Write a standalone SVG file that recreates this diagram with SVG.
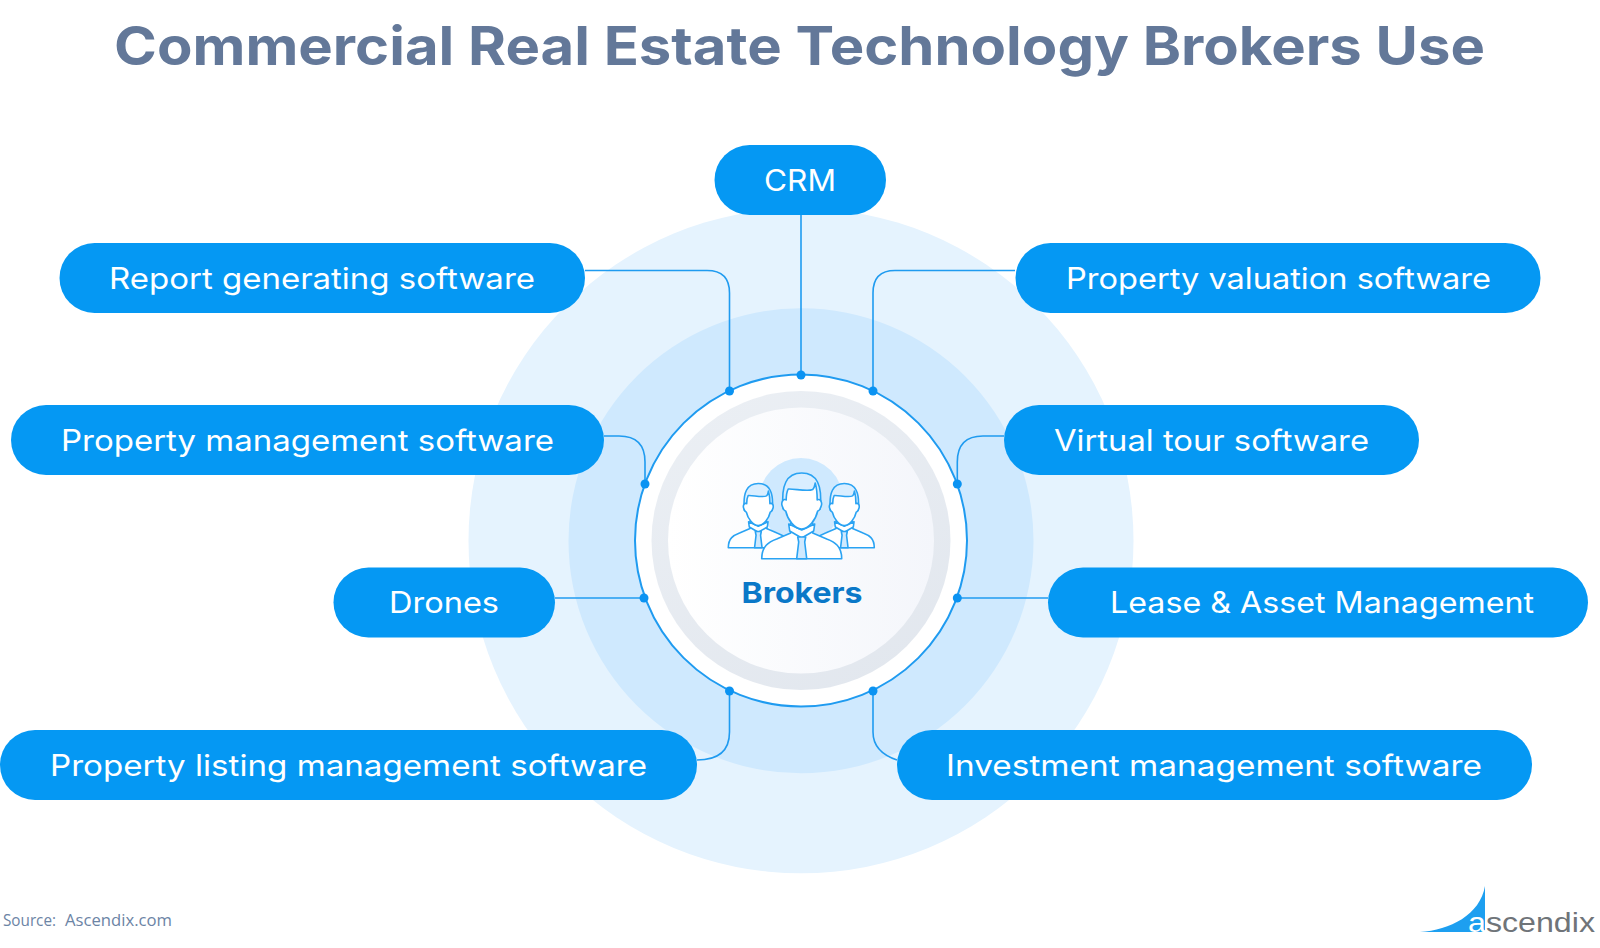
<svg xmlns="http://www.w3.org/2000/svg" xmlns:xlink="http://www.w3.org/1999/xlink" width="1600" height="948" viewBox="0 0 1600 948">
  <style>
    .pill { fill: #0598f3; }
    .pill-label { font-family: "Inter", "Open Sans", sans-serif; font-size: 29.5px; font-weight: 400; fill: #ffffff; }
    .wire { fill: none; stroke: #1f9bf0; stroke-width: 1.6; }
    .dot { fill: #0b93f2; }
    .outline { stroke: #2aa3f3; stroke-width: 1.6; stroke-linejoin: round; stroke-linecap: round; vector-effect: non-scaling-stroke; }
  </style>
  <defs>
    <linearGradient id="rimFill" x1="0.2" y1="0" x2="0.8" y2="1">
      <stop offset="0" stop-color="#ebeff4"/>
      <stop offset="1" stop-color="#e2e7ee"/>
    </linearGradient>
    <linearGradient id="discFill" x1="0" y1="0.5" x2="1" y2="0.5">
      <stop offset="0" stop-color="#ffffff"/>
      <stop offset="1" stop-color="#f4f6fb"/>
    </linearGradient>
    <!-- one standing figure; origin is the top centre of the hair -->
    <g id="person">
      <path class="outline" fill="#ffffff" d="M-40,85.7 C-40,73 -33,69 -25,66 L-11,60 L-11,50 L11,50 L11,60 L25,66 C33,69 40,73 40,85.7 Z"/>
      <path class="outline" fill="#ffffff" d="M-13,51 L-12,58 L0,65 L12,58 L13,51 L0,57 Z"/>
      <path class="outline" fill="#cfe9fe" d="M-4,64 L4,64 L3,69 L5,85.7 L-5,85.7 L-3,69 Z"/>
      <path class="outline" fill="#d9eeff" d="M-18.5,36 C-21,12 -15,0 0,0 C15,0 21,12 18.5,36 Z"/>
      <path class="outline" fill="#ffffff" d="M-13.5,16 C-8,15.5 6,19 11,16.5 C13,15 13,12 13.5,10 C15,15 15.5,22 15.5,27 C18,25 21,29 19.5,33 C18.5,36 17,38 16,38 C14,47 7,56 0,56 C-7,56 -14,47 -16,38 C-17,38 -18.5,36 -19.5,33 C-21,29 -18,25 -15.5,27 C-15.5,23 -15,19 -13.5,16 Z"/>
    </g>
  </defs>

  <text x="114" y="65" textLength="1371" lengthAdjust="spacingAndGlyphs" font-family="Inter, 'Open Sans', sans-serif" font-size="53" font-weight="700" fill="#637899">Commercial Real Estate Technology Brokers Use</text>

  <g id="halo">
    <circle cx="801" cy="540.8" r="332.5" fill="#e5f3fe"/>
    <circle cx="801" cy="540.8" r="232.5" fill="#cfe9fe"/>
  </g>

  <g id="connectors">
    <path class="wire" d="M801,215 V375"/>
    <path class="wire" d="M585,270.5 H707 Q729.5,270.5 729.5,293 V391"/>
    <path class="wire" d="M1015,270.5 H895 Q873,270.5 873,293 V391"/>
    <path class="wire" d="M604,436 H619 Q645,436 645,462 V484"/>
    <path class="wire" d="M1004,436 H983 Q957.3,436 957.3,462 V484"/>
    <path class="wire" d="M555,598 H644"/>
    <path class="wire" d="M1048,598 H957"/>
    <path class="wire" d="M697,760 Q729.5,760 729.5,732 V691"/>
    <path class="wire" d="M897,760 Q873,752 873,732 V691"/>
  </g>

  <g id="hub">
    <circle cx="801" cy="540.5" r="166" fill="#ffffff" stroke="#1f9bf0" stroke-width="2"/>
    <circle cx="801" cy="540.5" r="149.5" fill="url(#rimFill)"/>
    <circle cx="801" cy="540.5" r="133" fill="url(#discFill)"/>
    <g id="hub-dots">
      <circle class="dot" cx="801" cy="375" r="4.5"/>
      <circle class="dot" cx="729.5" cy="391" r="4.5"/>
      <circle class="dot" cx="873" cy="391" r="4.5"/>
      <circle class="dot" cx="645" cy="484" r="4.5"/>
      <circle class="dot" cx="957.3" cy="484" r="4.5"/>
      <circle class="dot" cx="644" cy="598" r="4.5"/>
      <circle class="dot" cx="957.3" cy="598" r="4.5"/>
      <circle class="dot" cx="729.5" cy="691" r="4.5"/>
      <circle class="dot" cx="873" cy="691" r="4.5"/>
    </g>
    <circle cx="801" cy="500" r="42" fill="#cfe9fe"/>
    <use xlink:href="#person" href="#person" transform="translate(758.3,483.5) scale(0.75)"/>
    <use xlink:href="#person" href="#person" transform="translate(844.3,483.5) scale(0.75)"/>
    <use xlink:href="#person" href="#person" transform="translate(801.7,473)"/>
    <text x="741.5" y="603" textLength="121" lengthAdjust="spacingAndGlyphs" font-family="Inter, 'Open Sans', sans-serif" font-size="29" font-weight="700" fill="#0a78c8">Brokers</text>
  </g>

  <g id="node-crm">
    <rect class="pill" x="714.5" y="145" width="171.5" height="70" rx="35"/>
    <text class="pill-label" x="764" y="191" textLength="72" lengthAdjust="spacingAndGlyphs">CRM</text>
  </g>
  <g id="node-report">
    <rect class="pill" x="59.5" y="243" width="525.5" height="70" rx="35"/>
    <text class="pill-label" x="109" y="288.7" textLength="426" lengthAdjust="spacingAndGlyphs">Report generating software</text>
  </g>
  <g id="node-valuation">
    <rect class="pill" x="1015.5" y="243" width="525" height="70" rx="35"/>
    <text class="pill-label" x="1066" y="288.7" textLength="425" lengthAdjust="spacingAndGlyphs">Property valuation software</text>
  </g>
  <g id="node-property-management">
    <rect class="pill" x="11" y="405" width="593" height="70" rx="35"/>
    <text class="pill-label" x="61" y="450.7" textLength="493" lengthAdjust="spacingAndGlyphs">Property management software</text>
  </g>
  <g id="node-virtual-tour">
    <rect class="pill" x="1004" y="405" width="415" height="70" rx="35"/>
    <text class="pill-label" x="1054" y="450.7" textLength="315" lengthAdjust="spacingAndGlyphs">Virtual tour software</text>
  </g>
  <g id="node-drones">
    <rect class="pill" x="333.5" y="567.5" width="221.5" height="70" rx="35"/>
    <text class="pill-label" x="389" y="613.2" textLength="110" lengthAdjust="spacingAndGlyphs">Drones</text>
  </g>
  <g id="node-lease">
    <rect class="pill" x="1048" y="567.5" width="540" height="70" rx="35"/>
    <text class="pill-label" x="1110" y="613.2" textLength="424" lengthAdjust="spacingAndGlyphs">Lease &amp; Asset Management</text>
  </g>
  <g id="node-listing">
    <rect class="pill" x="0" y="730" width="697" height="70" rx="35"/>
    <text class="pill-label" x="50" y="775.7" textLength="597" lengthAdjust="spacingAndGlyphs">Property listing management software</text>
  </g>
  <g id="node-investment">
    <rect class="pill" x="897" y="730" width="635" height="70" rx="35"/>
    <text class="pill-label" x="946" y="775.7" textLength="536" lengthAdjust="spacingAndGlyphs">Investment management software</text>
  </g>

  <text y="925.5" font-family="'Open Sans', sans-serif" font-size="17" fill="#6c84a5"><tspan x="3" textLength="53" lengthAdjust="spacingAndGlyphs">Source:</tspan> <tspan x="65" textLength="107" lengthAdjust="spacingAndGlyphs">Ascendix.com</tspan></text>

  <g id="logo">
    <path d="M1420,932 C1450,930 1480,915 1485,886 V932 Z" fill="#1d9ff0"/>
    <text x="1468" y="932" textLength="127" lengthAdjust="spacingAndGlyphs" font-family="'Liberation Sans', Arial, sans-serif" font-size="27" fill="#6f7479"><tspan fill="#ffffff">a</tspan>scendix</text>
  </g>
</svg>
